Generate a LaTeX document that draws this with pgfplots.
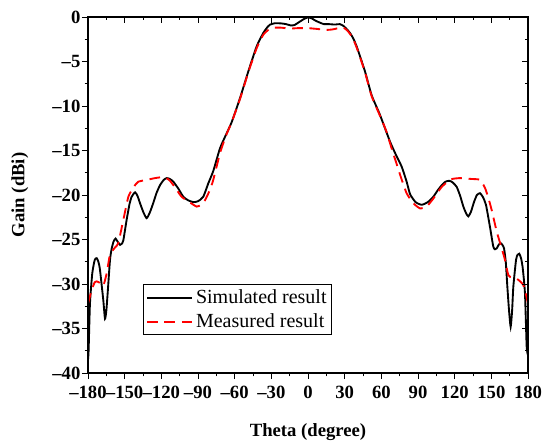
\documentclass[border=0pt]{standalone}
\usepackage{fontspec}
\setmainfont{Liberation Serif}
\usepackage{pgfplots}
\pgfplotsset{compat=1.18}
\begin{document}
\begin{tikzpicture}
\pgfplotsset{
  common/.style={
    width=330pt, height=267pt, scale only axis,
    xmin=-180, xmax=180, ymin=-40, ymax=0,
    xtick={-180,-150,...,180}, minor x tick num=1,
    ytick={-40,-35,...,0}, minor y tick num=1,
    major tick length=4.5pt, minor tick length=2.5pt,
    every tick/.style={black, line width=0.7pt},
    axis line style={black, line width=0.8pt},
  }
}
\begin{axis}[common,
  xtick pos=left, ytick pos=left, tick align=outside,
  xticklabels={–180,–150,–120,–90,–60,–30,0,30,60,90,120,150,180},
  yticklabels={–40,–35,–30,–25,–20,–15,–10,–5,0},
  tick label style={font=\fontsize{14}{15}\selectfont\bfseries},
  xticklabel style={inner sep=0pt, yshift=-5pt},
  yticklabel style={inner sep=1pt},
  xlabel={Theta (degree)}, ylabel={Gain (dBi)},
  every axis x label/.style={at={(axis description cs:0.5,-0.166)}, anchor=center, font=\fontsize{14}{15}\selectfont\bfseries},
  every axis y label/.style={at={(axis description cs:-0.155,0.5)}, rotate=90, anchor=center, font=\fontsize{14}{15}\selectfont\bfseries},
  legend style={at={(axis cs:-135,-30)}, anchor=north west, draw=black, thick,
    font=\fontsize{15}{17}\selectfont, inner xsep=2pt, inner ysep=2pt, row sep=2pt, fill=white},
  legend cell align=left,
  legend image code/.code={\draw[#1] (0pt,0pt) -- (34pt,0pt);},
]
\addplot[black, line width=1.4pt, smooth, tension=0.35] coordinates {
(-180,-38.5) (-179.5,-37.5) (-178.4,-32.2) (-176.5,-28.8) (-174.5,-27.3) (-172.9,-27.1)
(-171.5,-27.5) (-170.2,-28.4) (-167.5,-31.8) (-166.1,-33.9) (-165,-33.0) (-163.9,-31.0)
(-162,-27.3) (-160.6,-26.0) (-159,-25.2) (-157.4,-24.9) (-155.5,-25.3) (-153.8,-25.6)
(-152.5,-25.5) (-151.1,-25.1) (-148.4,-22.8) (-146,-21.0) (-144.3,-20.2) (-141.5,-19.7)
(-139.5,-20.1) (-137.5,-20.9) (-134.5,-22.0) (-132,-22.6) (-129.5,-22.0) (-126.6,-20.9)
(-124,-19.8) (-121.1,-18.9) (-118,-18.3) (-115.6,-18.1) (-113,-18.2) (-110.2,-18.5)
(-106,-19.3) (-102,-20.2) (-98,-20.6) (-93.8,-20.8) (-90,-20.7) (-85.7,-20.2)
(-81.6,-18.7) (-77.5,-17.3) (-72,-14.75) (-67,-13.2) (-62.4,-11.8) (-55.6,-9.1)
(-48.8,-6.1) (-42,-3.3) (-36.6,-1.8) (-33,-1.1) (-31,-0.85) (-27,-0.7) (-22,-0.72)
(-18,-0.8) (-14,-0.95) (-11,-0.9) (-7,-0.55) (-3,-0.2) (0,-0.05) (3,-0.15) (6,-0.4)
(10,-0.65) (13,-0.8) (17,-0.8) (22,-0.85) (26,-0.8) (29,-1.0) (32,-1.4) (34.4,-1.8)
(37,-2.4) (39.8,-3.3) (46.6,-6.1) (52.1,-8.8) (58.9,-11.0) (67.1,-14.0) (72,-15.5)
(76.6,-16.8) (80.7,-18.5) (83.5,-19.9) (88,-20.8) (93,-21.1) (98,-20.8) (102.5,-20.2)
(106,-19.5) (109.4,-18.9) (112.5,-18.5) (115.7,-18.4) (118.5,-18.6) (121.7,-19.1)
(124.5,-20.1) (127.1,-21.3) (129.5,-22.1) (131.2,-22.4) (133.3,-21.9) (135.8,-20.8)
(138.2,-20.0) (140.7,-19.8) (143,-20.2) (145.6,-21.1) (148.9,-23.6) (151.6,-25.8)
(153,-26.1) (154.4,-26.0) (156,-25.6) (157.6,-25.4) (159,-25.6) (160.4,-26.0)
(161.8,-27.5) (163.1,-30.3) (164.5,-33.0) (165.8,-34.8) (167,-33.0) (168,-30.3)
(170.2,-27.3) (171.5,-26.7) (172.9,-26.6) (174.3,-27.1) (175.6,-28.1) (177.5,-31.0)
(178.9,-37.0) (180,-38.0)
};
\addlegendentry{Simulated result}
\addplot[red, line width=1.4pt, dash pattern=on 8pt off 5pt, smooth, tension=0.35] coordinates {
(-180,-32.2) (-177,-30.7) (-174.5,-29.8) (-172.9,-29.7) (-170,-29.9) (-167.5,-30.2)
(-164.7,-28.8) (-162,-26.7) (-157.9,-25.9) (-155.2,-25.4) (-151.1,-22.8) (-147,-20.2)
(-144.3,-19.5) (-141,-18.8) (-138.8,-18.5) (-132,-18.3) (-125,-18.1) (-119.8,-18.0)
(-116,-18.1) (-112.9,-18.4) (-108,-19.3) (-103.4,-20.2) (-97,-20.8) (-91.1,-21.3)
(-87.5,-21.1) (-84.3,-20.6) (-80.5,-19.5) (-77.5,-18.3) (-72,-15.3) (-67,-13.3)
(-62.4,-11.8) (-55.6,-9.2) (-48.8,-6.2) (-42,-3.5) (-36.6,-2.0) (-32,-1.4) (-28,-1.2)
(-22,-1.2) (-15,-1.3) (-8,-1.25) (0,-1.25) (8,-1.35) (15,-1.45) (20,-1.4) (25,-1.25)
(29,-1.2) (32,-1.5) (34.4,-1.9) (37,-2.5) (40,-3.5) (46.6,-6.2) (52.1,-8.9)
(58.9,-11.1) (64,-12.8) (68.5,-14.8) (72.5,-16.5) (76,-18.0) (80.7,-19.8) (86,-20.9)
(91.6,-21.5) (97,-21.3) (102,-20.5) (106.6,-19.6) (110,-19.0) (113.5,-18.6) (118,-18.2)
(124.4,-18.1) (129,-18.15) (133.9,-18.2) (140.7,-18.3) (144.8,-19.2) (147.5,-20.3)
(150.3,-21.7) (154.4,-24.1) (158.5,-26.0) (161.2,-27.3) (163.9,-29.0) (167,-29.3)
(170.7,-29.4) (173.5,-29.7) (176.1,-30.1) (178,-31.0) (180,-32.2)
};
\addlegendentry{Measured result}
\end{axis}
\begin{axis}[common,
  xtick pos=right, ytick pos=right, tick align=inside,
  xticklabels={}, yticklabels={},
]
\end{axis}
\path (-66pt,-53.25pt) rectangle (342.75pt,279.75pt);
\end{tikzpicture}
\end{document}
